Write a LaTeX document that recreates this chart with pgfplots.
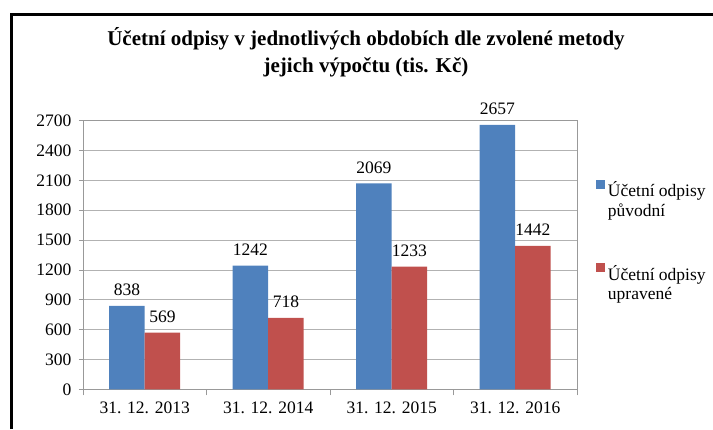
\documentclass[border=0pt]{standalone}
\usepackage{pgfplots}
\pgfplotsset{compat=1.18}
\usepackage{fontspec}
\setmainfont{Liberation Serif}

\definecolor{xlblue}{HTML}{4F81BD}
\definecolor{xlred}{HTML}{C0504D}
\newcommand{\lbl}{\fontsize{17.5}{19.5}\selectfont}

\begin{document}
\begin{tikzpicture}[x=1pt,y=1pt]
% frame of the chart area (top and left edges only are visible)
\draw[line width=3pt, line join=miter] (11.5,0) -- (11.5,414.5) -- (713,414.5);

% title
\node[anchor=base, font=\bfseries\fontsize{21}{26}\selectfont] at (366,383) {Účetní odpisy v jednotlivých obdobích dle zvolené metody};
\node[anchor=base, font=\bfseries\fontsize{21}{26}\selectfont] at (366,356.3) {jejich výpočtu (tis. Kč)};

\begin{axis}[
    at={(83pt,39.7pt)}, anchor=south west,
    scale only axis,
    width=494pt, height=268.6pt,
    ybar=0pt,
    bar width=35.5pt,
    xmin=-0.5, xmax=3.5,
    ymin=0, ymax=2700,
    xtick={0,1,2,3},
    xticklabels={31. 12. 2013, 31. 12. 2014, 31. 12. 2015, 31. 12. 2016},
    minor xtick={-0.5,0.5,1.5,2.5,3.5},
    major x tick style={draw=none},
    ytick={0,300,...,2700},
    tick pos=left,
    tick align=outside,
    major tick length=4pt,
    minor tick length=6pt,
    tick style={gray!80, line width=0.8pt},
    axis line style={gray!80, line width=0.8pt},
    ymajorgrids,
    grid style={gray!60, line width=0.8pt},
    ticklabel style={font=\lbl},
    xticklabel style={yshift=-5pt},
    yticklabel style={xshift=-4pt},
    /pgf/number format/assume math mode=true,
    /pgf/number format/1000 sep={},
    nodes near coords,
    nodes near coords style={font=\lbl, text=black, yshift=6.5pt},
    legend style={at={(1.038,0.78)}, anchor=north west, draw=none, fill=none,
        inner sep=0pt, row sep=65pt, font=\lbl,
        nodes={inner sep=0pt, outer sep=0pt}},
    legend cell align=left,
    legend image code/.code={\fill[#1] (0pt,1pt) rectangle (9pt,10pt);},
]
\addplot[fill=xlblue, draw=none] coordinates {
    (0, 838)
    (1, 1242)
    (2, 2069)
    (3, 2657)
};
\addlegendentry{\hspace{3pt}\begin{tabular}[t]{@{}l@{}}Účetní odpisy\\původní\end{tabular}}

\addplot[fill=xlred, draw=none] coordinates {
    (0, 569)
    (1, 718)
    (2, 1233)
    (3, 1442)
};
\addlegendentry{\hspace{3pt}\begin{tabular}[t]{@{}l@{}}Účetní odpisy\\upravené\end{tabular}}
\end{axis}

\pgfresetboundingbox
\useasboundingbox (0,0) rectangle (713,429);
\end{tikzpicture}
\end{document}
